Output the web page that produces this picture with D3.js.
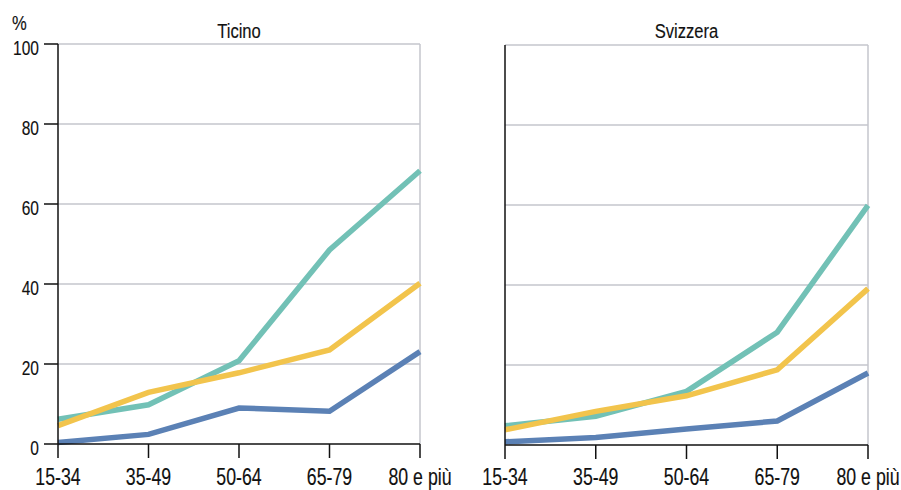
<!DOCTYPE html>
<html><head><meta charset="utf-8">
<script src="https://cdn.jsdelivr.net/npm/d3@7"></script>
<style>
body{margin:0;background:#fff;}
svg text{font-family:"Liberation Sans",Arial,sans-serif;fill:#111;stroke:#111;stroke-width:0.15px;}
</style></head><body>
<svg id="c" width="901" height="490"></svg>
<script>
const categories = ["15-34","35-49","50-64","65-79","80 e più"];
const yTicks = [0,20,40,60,80,100];
const panels = ["Ticino","Svizzera"];
const seriesNames = ["teal","yellow","blue"];
const colors = ["#72c1b6","#f2c44c","#5b81b5"];
const ticinoTeal   = [6.2, 9.8, 20.8, 48.5, 68.3];
const ticinoYellow = [4.6, 12.9, 17.8, 23.5, 40.2];
const ticinoBlue   = [0.4, 2.4, 9.0, 8.2, 23.1];
const svizzeraTeal   = [4.8, 7.2, 13.4, 28.2, 59.9];
const svizzeraYellow = [3.8, 8.4, 12.3, 18.8, 39.1];
const svizzeraBlue   = [0.8, 1.9, 4.0, 6.0, 18.0];
const panelData = [[ticinoTeal,ticinoYellow,ticinoBlue],[svizzeraTeal,svizzeraYellow,svizzeraBlue]];

const svg = d3.select("#c");
const layouts = [{x0:58,x1:420,y0:444,y1:44,labels:true},{x0:505,x1:868,y0:445,y1:45,labels:false}];

function label(sel, x, y, anchor, size, sx, txt, dy){
  return sel.append("text")
    .attr("transform",`translate(${x},${y}) scale(${sx},1)`)
    .attr("text-anchor",anchor).attr("font-size",size)
    .attr("dy",dy||null).text(txt);
}

label(svg, 12, 30, "start", 21, 0.79, "%");

panels.forEach((name,pi)=>{
  const L = layouts[pi];
  const x = d3.scalePoint().domain(categories).range([L.x0,L.x1]);
  const y = d3.scaleLinear().domain([0,100]).range([L.y0,L.y1]);
  const g = svg.append("g");
  g.selectAll("line.grid").data(yTicks.filter(d=>d>0)).join("line")
    .attr("x1",L.x0).attr("x2",L.x1).attr("y1",d=>y(d)).attr("y2",d=>y(d))
    .attr("stroke","#c4c6cd").attr("stroke-width",1.5);
  g.append("line").attr("x1",L.x1).attr("x2",L.x1).attr("y1",y(100)).attr("y2",y(0))
    .attr("stroke","#c4c6cd").attr("stroke-width",1.5);
  const line = d3.line().x((d,i)=>x(categories[i])).y(d=>y(d));
  panelData[pi].forEach((vals,si)=>{
    g.append("path").datum(vals).attr("d",line).attr("fill","none")
      .attr("stroke",colors[si]).attr("stroke-width",5.5).attr("stroke-linejoin","miter");
  });
  g.append("line").attr("x1",L.x0).attr("x2",L.x0).attr("y1",y(100)).attr("y2",y(0))
    .attr("stroke","#111").attr("stroke-width",1.5);
  if(L.labels){
    g.selectAll("line.yt").data(yTicks).join("line")
      .attr("x1",L.x0-14).attr("x2",L.x0).attr("y1",d=>y(d)).attr("y2",d=>y(d))
      .attr("stroke","#111").attr("stroke-width",1.5);
    yTicks.forEach(d=>label(g, L.x0-19, y(d), "end", 21, 0.74, d, "0.52em"));
  }
  g.append("line").attr("x1",L.x0).attr("x2",L.x1).attr("y1",y(0)).attr("y2",y(0))
    .attr("stroke","#111").attr("stroke-width",1.5);
  g.selectAll("line.xt").data(categories).join("line")
    .attr("x1",d=>x(d)).attr("x2",d=>x(d)).attr("y1",y(0)).attr("y2",y(0)+14)
    .attr("stroke","#111").attr("stroke-width",1.5);
  categories.forEach(c=>label(g, x(c), 485, "middle", 23, 0.77, c));
  label(g, (L.x0+L.x1)/2, 37.5, "middle", 21, 0.79, name);
});
</script></body></html>
